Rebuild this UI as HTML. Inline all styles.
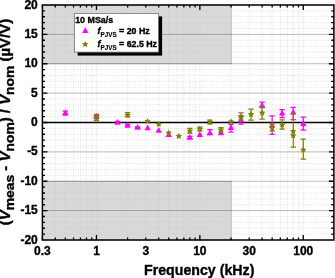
<!DOCTYPE html><html><head><meta charset="utf-8"><style>html,body{margin:0;padding:0;background:#fff;}svg{display:block;}text{font-family:"Liberation Sans",sans-serif;font-weight:bold;stroke:#000;stroke-width:0.35px;}svg{will-change:transform;}</style></head><body>
<svg width="335" height="278" viewBox="0 0 335 278">
<rect x="0" y="0" width="335" height="278" fill="#fff"/>
<rect x="42.4" y="5.0" width="188.89" height="58.75" fill="#d9d9d9" stroke="#b8b8b8" stroke-width="0.8"/>
<rect x="42.4" y="181.25" width="188.89" height="58.75" fill="#d9d9d9" stroke="#b8b8b8" stroke-width="0.8"/>
<path d="M42.40 5.0V240.0 M55.32 5.0V240.0 M65.34 5.0V240.0 M73.53 5.0V240.0 M80.45 5.0V240.0 M86.45 5.0V240.0 M91.73 5.0V240.0 M96.47 5.0V240.0 M127.59 5.0V240.0 M145.80 5.0V240.0 M158.72 5.0V240.0 M168.74 5.0V240.0 M176.93 5.0V240.0 M183.85 5.0V240.0 M189.85 5.0V240.0 M195.13 5.0V240.0 M199.87 5.0V240.0 M230.99 5.0V240.0 M249.20 5.0V240.0 M262.12 5.0V240.0 M272.14 5.0V240.0 M280.33 5.0V240.0 M287.25 5.0V240.0 M293.25 5.0V240.0 M298.53 5.0V240.0 M303.27 5.0V240.0 M42.4 234.12H333.9 M42.4 228.25H333.9 M42.4 222.38H333.9 M42.4 216.50H333.9 M42.4 204.75H333.9 M42.4 198.88H333.9 M42.4 193.00H333.9 M42.4 187.12H333.9 M42.4 175.38H333.9 M42.4 169.50H333.9 M42.4 163.62H333.9 M42.4 157.75H333.9 M42.4 146.00H333.9 M42.4 140.12H333.9 M42.4 134.25H333.9 M42.4 128.38H333.9 M42.4 116.62H333.9 M42.4 110.75H333.9 M42.4 104.88H333.9 M42.4 99.00H333.9 M42.4 87.25H333.9 M42.4 81.38H333.9 M42.4 75.50H333.9 M42.4 69.62H333.9 M42.4 57.88H333.9 M42.4 52.00H333.9 M42.4 46.12H333.9 M42.4 40.25H333.9 M42.4 28.50H333.9 M42.4 22.62H333.9 M42.4 16.75H333.9 M42.4 10.88H333.9" stroke="#c4c4c4" stroke-width="0.5" stroke-dasharray="1 1.2" fill="none"/>
<path d="M42.4 34.38H333.9 M42.4 63.75H333.9 M42.4 93.12H333.9 M42.4 151.88H333.9 M42.4 181.25H333.9 M42.4 210.62H333.9" stroke="#000" stroke-opacity="0.27" stroke-width="1" fill="none"/>
<path d="M42.4 122.50H333.9" stroke="#000" stroke-width="1.5"/>
<path d="M42.40 240.0v-2.6M42.40 5.0v2.6 M55.32 240.0v-2.6M55.32 5.0v2.6 M65.34 240.0v-2.6M65.34 5.0v2.6 M73.53 240.0v-2.6M73.53 5.0v2.6 M80.45 240.0v-2.6M80.45 5.0v2.6 M86.45 240.0v-2.6M86.45 5.0v2.6 M91.73 240.0v-2.6M91.73 5.0v2.6 M96.47 240.0v-5M96.47 5.0v5 M127.59 240.0v-2.6M127.59 5.0v2.6 M145.80 240.0v-2.6M145.80 5.0v2.6 M158.72 240.0v-2.6M158.72 5.0v2.6 M168.74 240.0v-2.6M168.74 5.0v2.6 M176.93 240.0v-2.6M176.93 5.0v2.6 M183.85 240.0v-2.6M183.85 5.0v2.6 M189.85 240.0v-2.6M189.85 5.0v2.6 M195.13 240.0v-2.6M195.13 5.0v2.6 M199.87 240.0v-5M199.87 5.0v5 M230.99 240.0v-2.6M230.99 5.0v2.6 M249.20 240.0v-2.6M249.20 5.0v2.6 M262.12 240.0v-2.6M262.12 5.0v2.6 M272.14 240.0v-2.6M272.14 5.0v2.6 M280.33 240.0v-2.6M280.33 5.0v2.6 M287.25 240.0v-2.6M287.25 5.0v2.6 M293.25 240.0v-2.6M293.25 5.0v2.6 M298.53 240.0v-2.6M298.53 5.0v2.6 M303.27 240.0v-5M303.27 5.0v5 M42.4 234.12h2.6M333.9 234.12h-2.6 M42.4 228.25h2.6M333.9 228.25h-2.6 M42.4 222.38h2.6M333.9 222.38h-2.6 M42.4 216.50h2.6M333.9 216.50h-2.6 M42.4 210.62h5M333.9 210.62h-5 M42.4 204.75h2.6M333.9 204.75h-2.6 M42.4 198.88h2.6M333.9 198.88h-2.6 M42.4 193.00h2.6M333.9 193.00h-2.6 M42.4 187.12h2.6M333.9 187.12h-2.6 M42.4 181.25h5M333.9 181.25h-5 M42.4 175.38h2.6M333.9 175.38h-2.6 M42.4 169.50h2.6M333.9 169.50h-2.6 M42.4 163.62h2.6M333.9 163.62h-2.6 M42.4 157.75h2.6M333.9 157.75h-2.6 M42.4 151.88h5M333.9 151.88h-5 M42.4 146.00h2.6M333.9 146.00h-2.6 M42.4 140.12h2.6M333.9 140.12h-2.6 M42.4 134.25h2.6M333.9 134.25h-2.6 M42.4 128.38h2.6M333.9 128.38h-2.6 M42.4 122.50h5M333.9 122.50h-5 M42.4 116.62h2.6M333.9 116.62h-2.6 M42.4 110.75h2.6M333.9 110.75h-2.6 M42.4 104.88h2.6M333.9 104.88h-2.6 M42.4 99.00h2.6M333.9 99.00h-2.6 M42.4 93.12h5M333.9 93.12h-5 M42.4 87.25h2.6M333.9 87.25h-2.6 M42.4 81.38h2.6M333.9 81.38h-2.6 M42.4 75.50h2.6M333.9 75.50h-2.6 M42.4 69.62h2.6M333.9 69.62h-2.6 M42.4 63.75h5M333.9 63.75h-5 M42.4 57.88h2.6M333.9 57.88h-2.6 M42.4 52.00h2.6M333.9 52.00h-2.6 M42.4 46.12h2.6M333.9 46.12h-2.6 M42.4 40.25h2.6M333.9 40.25h-2.6 M42.4 34.38h5M333.9 34.38h-5 M42.4 28.50h2.6M333.9 28.50h-2.6 M42.4 22.62h2.6M333.9 22.62h-2.6 M42.4 16.75h2.6M333.9 16.75h-2.6 M42.4 10.88h2.6M333.9 10.88h-2.6" stroke="#000" stroke-width="1.3" fill="none"/>
<rect x="42.4" y="5.0" width="291.50" height="235.00" fill="none" stroke="#000" stroke-width="1.5"/>
<path d="M65.34 111.00V115.00M62.69 111.00h5.3M62.69 115.00h5.3" stroke="#ff00ff" stroke-width="1.25" fill="none"/>
<path d="M65.34 109.22L68.49 115.02L62.19 115.02Z" fill="#ff00ff"/>
<path d="M96.47 115.30V118.50M93.82 115.30h5.3M93.82 118.50h5.3" stroke="#ff00ff" stroke-width="1.25" fill="none"/>
<path d="M96.47 112.82L99.62 118.62L93.32 118.62Z" fill="#ff00ff"/>
<path d="M117.57 121.40V123.40M114.92 121.40h5.3M114.92 123.40h5.3" stroke="#ff00ff" stroke-width="1.25" fill="none"/>
<path d="M117.57 118.92L120.72 124.72L114.42 124.72Z" fill="#ff00ff"/>
<path d="M127.59 124.40V126.40M124.94 124.40h5.3M124.94 126.40h5.3" stroke="#ff00ff" stroke-width="1.25" fill="none"/>
<path d="M127.59 121.92L130.74 127.72L124.44 127.72Z" fill="#ff00ff"/>
<path d="M137.61 126.80V128.20M134.96 126.80h5.3M134.96 128.20h5.3" stroke="#ff00ff" stroke-width="1.25" fill="none"/>
<path d="M137.61 124.02L140.76 129.82L134.46 129.82Z" fill="#ff00ff"/>
<path d="M147.63 124.42L150.78 130.22L144.48 130.22Z" fill="#ff00ff"/>
<path d="M158.72 127.02L161.87 132.82L155.57 132.82Z" fill="#ff00ff"/>
<path d="M168.74 131.32L171.89 137.12L165.59 137.12Z" fill="#ff00ff"/>
<path d="M189.85 136.30V138.50M187.20 136.30h5.3M187.20 138.50h5.3" stroke="#ff00ff" stroke-width="1.25" fill="none"/>
<path d="M189.85 133.92L193.00 139.72L186.70 139.72Z" fill="#ff00ff"/>
<path d="M199.87 131.12L203.02 136.92L196.72 136.92Z" fill="#ff00ff"/>
<path d="M209.89 129.60V134.50M207.24 129.60h5.3M207.24 134.50h5.3" stroke="#ff00ff" stroke-width="1.25" fill="none"/>
<path d="M209.89 129.52L213.04 135.32L206.74 135.32Z" fill="#ff00ff"/>
<path d="M220.97 129.52L224.12 135.32L217.82 135.32Z" fill="#ff00ff"/>
<path d="M230.99 124.30V132.20M228.34 124.30h5.3M228.34 132.20h5.3" stroke="#ff00ff" stroke-width="1.25" fill="none"/>
<path d="M230.99 124.32L234.14 130.12L227.84 130.12Z" fill="#ff00ff"/>
<path d="M241.01 115.50V124.20M238.36 115.50h5.3M238.36 124.20h5.3" stroke="#ff00ff" stroke-width="1.25" fill="none"/>
<path d="M241.01 116.82L244.16 122.62L237.86 122.62Z" fill="#ff00ff"/>
<path d="M262.12 102.00V107.60M259.47 102.00h5.3M259.47 107.60h5.3" stroke="#ff00ff" stroke-width="1.25" fill="none"/>
<path d="M262.12 101.92L265.27 107.72L258.97 107.72Z" fill="#ff00ff"/>
<path d="M272.14 115.90V134.40M269.49 115.90h5.3M269.49 134.40h5.3" stroke="#ff00ff" stroke-width="1.25" fill="none"/>
<path d="M272.14 122.02L275.29 127.82L268.99 127.82Z" fill="#ff00ff"/>
<path d="M282.16 109.60V117.50M279.51 109.60h5.3M279.51 117.50h5.3" stroke="#ff00ff" stroke-width="1.25" fill="none"/>
<path d="M282.16 109.82L285.31 115.62L279.01 115.62Z" fill="#ff00ff"/>
<path d="M293.25 107.30V119.70M290.60 107.30h5.3M290.60 119.70h5.3" stroke="#ff00ff" stroke-width="1.25" fill="none"/>
<path d="M293.25 108.72L296.40 114.52L290.10 114.52Z" fill="#ff00ff"/>
<path d="M303.27 117.10V130.10M300.62 117.10h5.3M300.62 130.10h5.3" stroke="#ff00ff" stroke-width="1.25" fill="none"/>
<path d="M303.27 120.12L306.42 125.92L300.12 125.92Z" fill="#ff00ff"/>
<path d="M96.47 114.30V120.50M93.82 114.30h5.3M93.82 120.50h5.3" stroke="#808000" stroke-width="1.25" fill="none"/>
<polygon points="96.47,114.20 97.46,116.22 99.70,116.55 98.08,118.13 98.46,120.35 96.47,119.30 94.47,120.35 94.85,118.13 93.23,116.55 95.47,116.22" fill="#808000"/>
<path d="M127.59 112.60V116.90M124.94 112.60h5.3M124.94 116.90h5.3" stroke="#808000" stroke-width="1.25" fill="none"/>
<polygon points="127.59,111.70 128.59,113.72 130.83,114.05 129.21,115.63 129.59,117.85 127.59,116.80 125.59,117.85 125.98,115.63 124.36,114.05 126.59,113.72" fill="#808000"/>
<polygon points="147.63,118.00 148.63,120.02 150.87,120.35 149.25,121.93 149.63,124.15 147.63,123.10 145.63,124.15 146.02,121.93 144.40,120.35 146.63,120.02" fill="#808000"/>
<polygon points="158.72,120.80 159.72,122.82 161.95,123.15 160.34,124.73 160.72,126.95 158.72,125.90 156.72,126.95 157.10,124.73 155.49,123.15 157.72,122.82" fill="#808000"/>
<polygon points="168.74,129.50 169.74,131.52 171.97,131.85 170.36,133.43 170.74,135.65 168.74,134.60 166.74,135.65 167.12,133.43 165.51,131.85 167.74,131.52" fill="#808000"/>
<polygon points="178.76,132.80 179.76,134.82 181.99,135.15 180.38,136.73 180.76,138.95 178.76,137.90 176.76,138.95 177.14,136.73 175.53,135.15 177.76,134.82" fill="#808000"/>
<path d="M189.85 128.40V133.00M187.20 128.40h5.3M187.20 133.00h5.3" stroke="#808000" stroke-width="1.25" fill="none"/>
<polygon points="189.85,127.60 190.84,129.62 193.08,129.95 191.46,131.53 191.84,133.75 189.85,132.70 187.85,133.75 188.23,131.53 186.61,129.95 188.85,129.62" fill="#808000"/>
<path d="M199.87 127.00V130.80M197.22 127.00h5.3M197.22 130.80h5.3" stroke="#808000" stroke-width="1.25" fill="none"/>
<polygon points="199.87,125.70 200.86,127.72 203.10,128.05 201.48,129.63 201.86,131.85 199.87,130.80 197.87,131.85 198.25,129.63 196.63,128.05 198.87,127.72" fill="#808000"/>
<path d="M209.89 120.20V123.80M207.24 120.20h5.3M207.24 123.80h5.3" stroke="#808000" stroke-width="1.25" fill="none"/>
<polygon points="209.89,118.80 210.89,120.82 213.12,121.15 211.50,122.73 211.88,124.95 209.89,123.90 207.89,124.95 208.27,122.73 206.65,121.15 208.89,120.82" fill="#808000"/>
<path d="M220.97 127.50V131.80M218.32 127.50h5.3M218.32 131.80h5.3" stroke="#808000" stroke-width="1.25" fill="none"/>
<polygon points="220.97,126.50 221.97,128.52 224.21,128.85 222.59,130.43 222.97,132.65 220.97,131.60 218.97,132.65 219.35,130.43 217.74,128.85 219.97,128.52" fill="#808000"/>
<polygon points="230.99,118.30 231.99,120.32 234.23,120.65 232.61,122.23 232.99,124.45 230.99,123.40 228.99,124.45 229.38,122.23 227.76,120.65 229.99,120.32" fill="#808000"/>
<path d="M241.01 112.90V120.10M238.36 112.90h5.3M238.36 120.10h5.3" stroke="#808000" stroke-width="1.25" fill="none"/>
<polygon points="241.01,114.10 242.01,116.12 244.25,116.45 242.63,118.03 243.01,120.25 241.01,119.20 239.01,120.25 239.40,118.03 237.78,116.45 240.01,116.12" fill="#808000"/>
<path d="M251.03 109.10V120.00M248.38 109.10h5.3M248.38 120.00h5.3" stroke="#808000" stroke-width="1.25" fill="none"/>
<polygon points="251.03,111.00 252.03,113.02 254.27,113.35 252.65,114.93 253.03,117.15 251.03,116.10 249.03,117.15 249.42,114.93 247.80,113.35 250.03,113.02" fill="#808000"/>
<path d="M262.12 106.60V119.20M259.47 106.60h5.3M259.47 119.20h5.3" stroke="#808000" stroke-width="1.25" fill="none"/>
<polygon points="262.12,109.50 263.12,111.52 265.35,111.85 263.74,113.43 264.12,115.65 262.12,114.60 260.12,115.65 260.50,113.43 258.89,111.85 261.12,111.52" fill="#808000"/>
<path d="M272.14 124.00V130.80M269.49 124.00h5.3M269.49 130.80h5.3" stroke="#808000" stroke-width="1.25" fill="none"/>
<polygon points="272.14,124.30 273.14,126.32 275.37,126.65 273.76,128.23 274.14,130.45 272.14,129.40 270.14,130.45 270.52,128.23 268.91,126.65 271.14,126.32" fill="#808000"/>
<path d="M282.16 119.80V129.00M279.51 119.80h5.3M279.51 129.00h5.3" stroke="#808000" stroke-width="1.25" fill="none"/>
<polygon points="282.16,121.50 283.16,123.52 285.39,123.85 283.78,125.43 284.16,127.65 282.16,126.60 280.16,127.65 280.54,125.43 278.93,123.85 281.16,123.52" fill="#808000"/>
<path d="M293.25 113.90V147.20M290.60 113.90h5.3M290.60 147.20h5.3" stroke="#808000" stroke-width="1.25" fill="none"/>
<polygon points="293.25,127.90 294.24,129.92 296.48,130.25 294.86,131.83 295.24,134.05 293.25,133.00 291.25,134.05 291.63,131.83 290.01,130.25 292.25,129.92" fill="#808000"/>
<polygon points="293.25,132.20 294.24,134.22 296.48,134.55 294.86,136.13 295.24,138.35 293.25,137.30 291.25,138.35 291.63,136.13 290.01,134.55 292.25,134.22" fill="#808000"/>
<path d="M303.27 139.10V159.20M300.62 139.10h5.3M300.62 159.20h5.3" stroke="#808000" stroke-width="1.25" fill="none"/>
<polygon points="303.27,146.40 304.26,148.42 306.50,148.75 304.88,150.33 305.26,152.55 303.27,151.50 301.27,152.55 301.65,150.33 300.03,148.75 302.27,148.42" fill="#808000"/>
<rect x="77.6" y="16.4" width="84.5" height="39.2" fill="#000"/>
<rect x="74.5" y="13.5" width="84" height="38.6" fill="#fff" stroke="#777" stroke-width="0.8"/>
<text x="75.2" y="22.5" font-size="8.9">10 MSa/s</text>
<path d="M85.30 27.32L88.45 33.12L82.15 33.12Z" fill="#ff00ff"/>
<polygon points="85.30,40.90 86.30,42.92 88.53,43.25 86.92,44.83 87.30,47.05 85.30,46.00 83.30,47.05 83.68,44.83 82.07,43.25 84.30,42.92" fill="#808000"/>
<text x="97.6" y="34.1" font-size="8.8"><tspan font-style="italic">f</tspan><tspan font-size="6.3" dy="2.8" style="stroke-width:0.12px">PJVS</tspan><tspan dy="-2.9"> = 20 Hz</tspan></text>
<text x="97.6" y="47.3" font-size="8.8"><tspan font-style="italic">f</tspan><tspan font-size="6.3" dy="2.8" style="stroke-width:0.12px">PJVS</tspan><tspan dy="-2.9"> = 62.5 Hz</tspan></text>
<text x="37.8" y="8.60" font-size="12" text-anchor="end">20</text>
<text x="37.8" y="37.98" font-size="12" text-anchor="end">15</text>
<text x="37.8" y="67.35" font-size="12" text-anchor="end">10</text>
<text x="37.8" y="96.72" font-size="12" text-anchor="end">5</text>
<text x="37.8" y="126.10" font-size="12" text-anchor="end">0</text>
<text x="37.8" y="155.47" font-size="12" text-anchor="end">-5</text>
<text x="37.8" y="184.85" font-size="12" text-anchor="end">-10</text>
<text x="37.8" y="214.22" font-size="12" text-anchor="end">-15</text>
<text x="37.8" y="243.60" font-size="12" text-anchor="end">-20</text>
<text x="42.40" y="254.6" font-size="12" text-anchor="middle">0.3</text>
<text x="96.47" y="254.6" font-size="12" text-anchor="middle">1</text>
<text x="145.80" y="254.6" font-size="12" text-anchor="middle">3</text>
<text x="199.87" y="254.6" font-size="12" text-anchor="middle">10</text>
<text x="249.20" y="254.6" font-size="12" text-anchor="middle">30</text>
<text x="303.27" y="254.6" font-size="12" text-anchor="middle">100</text>
<text x="199.2" y="274.6" font-size="14.2" text-anchor="middle">Frequency (kHz)</text>
<text transform="translate(10.3,225.2) rotate(-90) scale(1.067,1)" x="0" y="0" font-size="14">(<tspan font-style="italic">V</tspan><tspan font-size="13" dy="3.2">meas</tspan><tspan dy="-3.2"> - </tspan><tspan font-style="italic">V</tspan><tspan font-size="13" dy="3.2">nom</tspan><tspan dy="-3.2">) / </tspan><tspan font-style="italic">V</tspan><tspan font-size="13" dy="3.2">nom</tspan><tspan dy="-3.2"> (µV/V)</tspan></text>
</svg></body></html>
